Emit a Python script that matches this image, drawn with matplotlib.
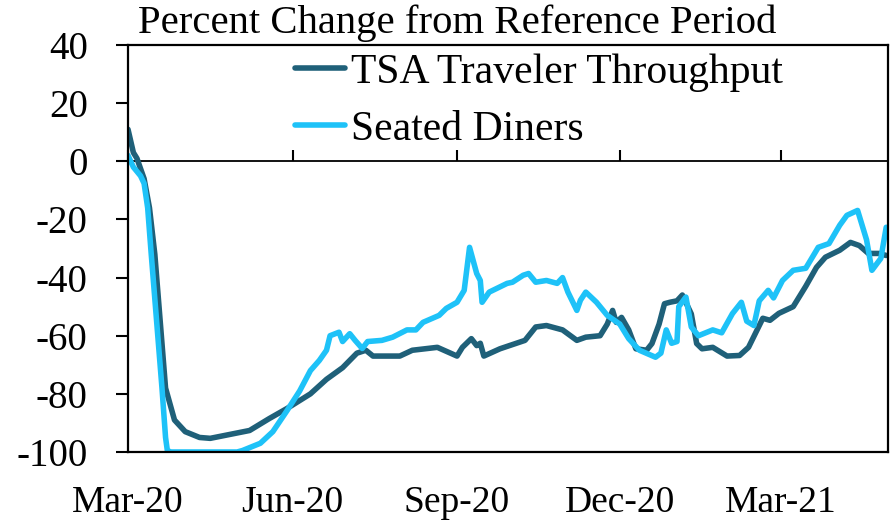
import matplotlib
matplotlib.use("Agg")
import matplotlib.pyplot as plt
import pandas as pd

plt.rcParams['font.family'] = ['Liberation Serif', 'DejaVu Serif']

# ---- data ----
tsa_dates = ["2020-03-01", "2020-03-04", "2020-03-06", "2020-03-10", "2020-03-13", "2020-03-16",
             "2020-03-19", "2020-03-22", "2020-03-27", "2020-04-02", "2020-04-10", "2020-04-16",
             "2020-05-08", "2020-05-19", "2020-05-29", "2020-06-11", "2020-06-20", "2020-06-29",
             "2020-07-07", "2020-07-12", "2020-07-16", "2020-07-31", "2020-08-07", "2020-08-21",
             "2020-09-01", "2020-09-04", "2020-09-09", "2020-09-12", "2020-09-14", "2020-09-16",
             "2020-09-25", "2020-10-09", "2020-10-15", "2020-10-21", "2020-10-30", "2020-11-07",
             "2020-11-12", "2020-11-20", "2020-11-24", "2020-11-27", "2020-11-29", "2020-12-02",
             "2020-12-06", "2020-12-10", "2020-12-16", "2020-12-19", "2020-12-23", "2020-12-26",
             "2020-12-29", "2021-01-02", "2021-01-05", "2021-01-10", "2021-01-13", "2021-01-16",
             "2021-01-22", "2021-01-30", "2021-02-06", "2021-02-11", "2021-02-15", "2021-02-19",
             "2021-02-23", "2021-02-28", "2021-03-08", "2021-03-15", "2021-03-21", "2021-03-26",
             "2021-04-03", "2021-04-09", "2021-04-14", "2021-04-19", "2021-04-25", "2021-04-29"]
tsa_values = [11, 3, 1, -6, -16, -32,
              -55, -78, -89, -93, -95, -95.3,
              -92.6, -88.5, -85, -80, -75, -71,
              -66, -65, -67, -67, -65, -64,
              -67, -64, -61, -63.4, -62.6, -67,
              -64.5, -61.6, -57, -56.5, -58, -61.6,
              -60.5, -60, -56, -51.3, -55.4, -53.7,
              -58, -64.5, -65, -62.7, -56, -49,
              -48.5, -48, -46, -52.5, -62.7, -64.5,
              -64, -67, -66.8, -64, -59, -54,
              -54.7, -52.3, -50, -43, -36.5, -33,
              -30.6, -27.9, -29, -31.7, -31.7, -32.4]

diner_dates = ["2020-03-01", "2020-03-04", "2020-03-08", "2020-03-10", "2020-03-12", "2020-03-14",
               "2020-03-17", "2020-03-20", "2020-03-22", "2020-03-23", "2020-03-25", "2020-05-01",
               "2020-05-04", "2020-05-14", "2020-05-21", "2020-05-29", "2020-06-05", "2020-06-11",
               "2020-06-16", "2020-06-20", "2020-06-22", "2020-06-27", "2020-06-29", "2020-07-03",
               "2020-07-06", "2020-07-10", "2020-07-13", "2020-07-21", "2020-07-27", "2020-08-04",
               "2020-08-09", "2020-08-13", "2020-08-22", "2020-08-26", "2020-09-01", "2020-09-05",
               "2020-09-08", "2020-09-12", "2020-09-14", "2020-09-15", "2020-09-19", "2020-09-29",
               "2020-10-02", "2020-10-08", "2020-10-11", "2020-10-15", "2020-10-21", "2020-10-27",
               "2020-10-30", "2020-11-02", "2020-11-07", "2020-11-09", "2020-11-12", "2020-11-18",
               "2020-11-24", "2020-12-01", "2020-12-06", "2020-12-12", "2020-12-21", "2020-12-24",
               "2020-12-27", "2020-12-30", "2021-01-02", "2021-01-03", "2021-01-07", "2021-01-10",
               "2021-01-14", "2021-01-22", "2021-01-27", "2021-02-02", "2021-02-07", "2021-02-10",
               "2021-02-14", "2021-02-17", "2021-02-22", "2021-02-25", "2021-03-02", "2021-03-08",
               "2021-03-15", "2021-03-22", "2021-03-28", "2021-04-03", "2021-04-07", "2021-04-13",
               "2021-04-18", "2021-04-21", "2021-04-26", "2021-04-29"]
diner_values = [2, -2, -5, -7.6, -16, -32,
                -55, -78, -95, -99.5, -100, -100,
                -99.5, -97, -93, -85.7, -79, -72,
                -68.5, -65, -60, -58.8, -62, -59.3,
                -61.6, -64.4, -62, -61.6, -60.5, -58,
                -58, -55.4, -53, -50.6, -48.5, -44.4,
                -29.6, -38.6, -41, -48.5, -45, -42,
                -41.6, -39.2, -38.6, -41.6, -41, -42,
                -40, -45, -51.3, -47.8, -45, -48.5,
                -53, -56, -61, -65, -67.4, -66,
                -58, -62.6, -62, -50, -46.7, -57,
                -60, -58, -59, -52.4, -48.5, -55,
                -56.5, -48, -44.4, -47, -41, -37.5,
                -36.8, -29.6, -28.3, -22, -18.6, -16.9,
                -27, -37.5, -33.4, -22.7]

tick_dates = ["2020-03-01", "2020-06-01", "2020-09-01", "2020-12-01", "2021-03-01"]
tick_labels = ["Mar-20", "Jun-20", "Sep-20", "Dec-20", "Mar-21"]
y_ticks = [40, 20, 0, -20, -40, -60, -80, -100]

series_names = ["TSA Traveler Throughput", "Seated Diners"]
title_text = "Percent Change from Reference Period"

# ---- figure ----
fig = plt.figure(figsize=(8.9, 5.26), dpi=100)
ax = fig.add_axes([128 / 890, 1 - 452 / 526, 760 / 890, 407 / 526])

c_tsa = "#1F6079"
c_din = "#1EC2F8"

ax.plot(pd.to_datetime(tsa_dates), tsa_values, color=c_tsa, lw=4.0,
        solid_joinstyle="round", solid_capstyle="round", label=series_names[0])
ax.plot(pd.to_datetime(diner_dates), diner_values, color=c_din, lw=4.0,
        solid_joinstyle="round", solid_capstyle="round", label=series_names[1])

ax.set_ylim(-100, 40)
ax.set_xlim(pd.Timestamp("2020-03-01"), pd.Timestamp("2021-04-30"))
ax.set_yticks(y_ticks)
ax.set_yticklabels([str(v) for v in y_ticks])

ax.set_xticks(pd.to_datetime(tick_dates))
ax.set_xticklabels(tick_labels)
ax.tick_params(axis="x", length=0, pad=24, labelsize=27)
ax.tick_params(axis="y", direction="out", length=9, width=1.5, pad=20, labelsize=28)

for s in ax.spines.values():
    s.set_linewidth(1.6)
    s.set_color("black")

# zero line with downward ticks
ax.axhline(0, color="black", lw=1.3, zorder=1)
zero_frac = (0 - (-100)) / (40 - (-100))
sec = ax.secondary_xaxis(zero_frac)
sec.set_xticks(pd.to_datetime(tick_dates))
sec.set_xticklabels([])
sec.tick_params(direction="out", length=8, width=1.5)
sec.spines["bottom"].set_visible(False)
sec.spines["top"].set_visible(False)

leg = ax.legend(loc="upper left", bbox_to_anchor=(0.198, 1.02), frameon=False,
                fontsize=30, handlelength=1.2, handletextpad=0.15, labelspacing=0.44,
                borderaxespad=0)

fig.text(457 / 890, 1 - 33 / 526, title_text, ha="center", va="baseline", fontsize=29.3)

fig.savefig("out.png", dpi=100)
